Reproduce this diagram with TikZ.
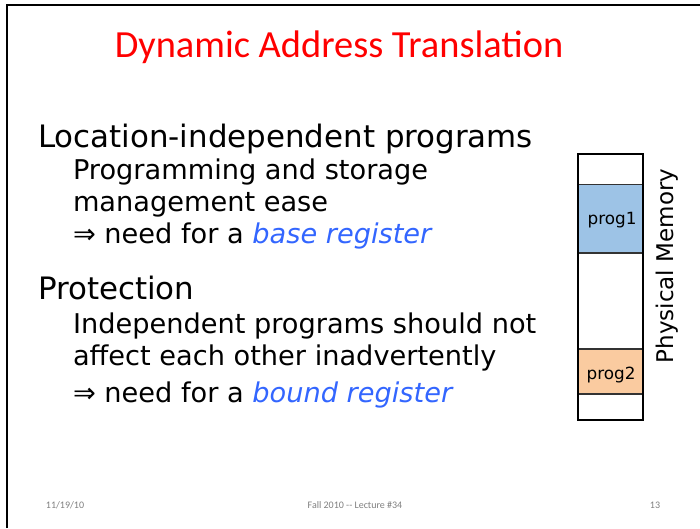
\documentclass[tikz,border=0pt]{standalone}
\usepackage{fontspec}
\setmainfont{DejaVu Sans}
\newfontfamily\titlefont{Carlito}
\newfontfamily\bodyfont{DejaVu Sans}
\definecolor{titlered}{RGB}{255,0,0}
\definecolor{kwblue}{RGB}{51,102,255}
\definecolor{footgray}{RGB}{128,128,128}
\definecolor{progblue}{RGB}{157,195,230}
\definecolor{progpeach}{RGB}{250,203,160}
\begin{document}
\begin{tikzpicture}[x=1pt,y=-1pt,
  txt/.style={anchor=base west,inner sep=0pt,outer sep=0pt},
  lvlone/.style={txt,font=\bodyfont\fontsize{30.9}{36}\selectfont},
  lvltwo/.style={txt,font=\bodyfont\fontsize{27.2}{32}\selectfont},
  foot/.style={anchor=base,inner sep=0pt,text=footgray,font=\titlefont\fontsize{10}{12}\selectfont},
  memcell/.style={draw=black,line width=1.2pt},
  proglabel/.style={inner sep=0pt,font=\bodyfont\fontsize{16.8}{20}\selectfont}]
\useasboundingbox (0,0) rectangle (700,528);
\fill[white] (0,0) rectangle (700,528);
% slide frame (top and left edges)
\draw[line width=2pt] (7,528) -- (7,5) -- (700,5);

% title
\node[anchor=base,inner sep=0pt,text=titlered,font=\titlefont\fontsize{38.4}{44}\selectfont]
  (title) at (339,57) {Dynamic Address Translation};

% bullets
\node[lvlone] (loc) at (38,147) {Location-independent programs};
\node[lvltwo] (prg) at (73,179) {Programming and storage};
\node[lvltwo] (mgt) at (73,211) {management ease};
\node[lvltwo] (base) at (73,243) {⇒ need for a \textcolor{kwblue}{\itshape base register}};
\node[lvlone] (prot) at (38,299) {Protection};
\node[lvltwo] (ind) at (73,333) {Independent programs should not};
\node[lvltwo] (aff) at (73,365) {affect each other inadvertently};
\node[lvltwo] (bound) at (73,402) {⇒ need for a \textcolor{kwblue}{\itshape bound register}};

% physical memory column
\fill[progblue] (578,184) rectangle (643,253);
\fill[progpeach] (578,349) rectangle (643,394);
\draw[black!80,line width=1pt] (578,184) -- (643,184);
\draw[black!80,line width=1.2pt] (578,253) -- (643,253);
\draw[black!80,line width=1.2pt] (578,349) -- (643,349);
\draw[black!80,line width=1.2pt] (578,394) -- (643,394);
\draw[memcell] (578,154) rectangle (643,420);
\node[proglabel] (p1) at (612,220) {prog1};
\node[proglabel] (p2) at (611,375) {prog2};
\node[inner sep=0pt,rotate=90,font=\bodyfont\fontsize{23}{28}\selectfont] (pm) at (667,266) {Physical Memory};

% footer
\node[foot] (date) at (65,508) {11/19/10};
\node[foot] (lect) at (355,508) {Fall 2010 -- Lecture \#34};
\node[foot] (pg) at (655,508) {13};
\end{tikzpicture}
\end{document}
